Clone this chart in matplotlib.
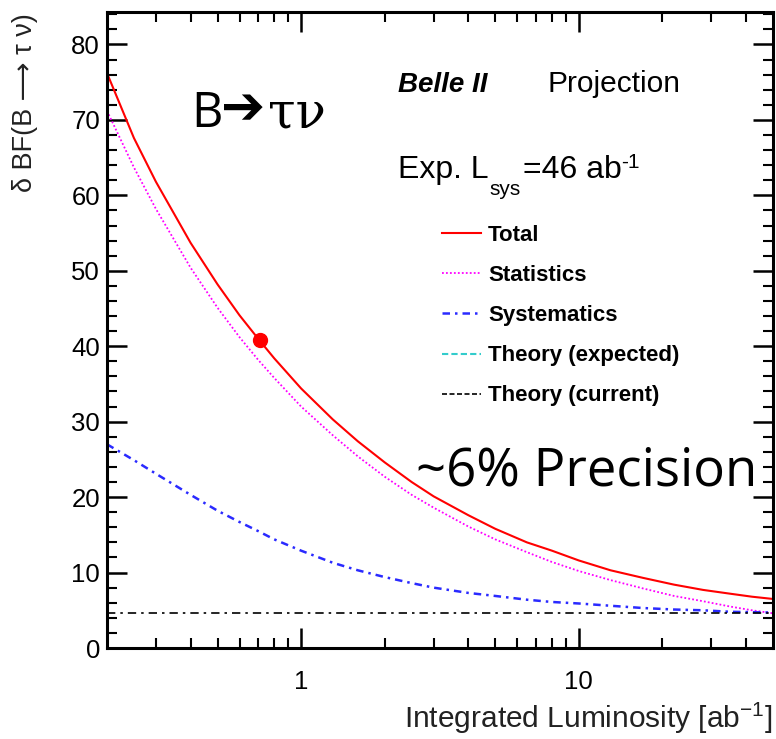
import matplotlib
matplotlib.use("Agg")
import matplotlib.pyplot as plt
from matplotlib.lines import Line2D
from matplotlib.ticker import FixedLocator, NullFormatter

# B -> tau nu branching-fraction uncertainty (%) vs integrated luminosity (ab^-1)
lumi = [0.2, 0.25, 0.3, 0.4, 0.5, 0.6, 0.7, 0.8, 1.0, 1.3, 1.6, 2.0, 2.5,
        3.0, 4.0, 5.0, 6.5, 8.0, 10, 13, 17, 22, 28, 35, 42, 50]
total = [76.2, 67.6, 61.8, 53.7, 48.2, 44.1, 41.0, 38.4, 34.4, 30.3, 27.4, 24.6, 22.0,
         20.1, 17.6, 15.8, 14.0, 12.9, 11.6, 10.3, 9.3, 8.4, 7.7, 7.2, 6.8, 6.5]
stat = [71.2, 63.7, 58.2, 50.4, 45.1, 41.2, 38.2, 35.8, 32.0, 28.2, 25.4, 22.7, 20.3,
        18.6, 16.1, 14.4, 12.7, 11.4, 10.2, 9.0, 7.9, 6.9, 6.2, 5.5, 5.0, 4.6]
syst = [27.0, 24.9, 23.1, 20.3, 18.2, 16.7, 15.5, 14.4, 12.9, 11.3, 10.3, 9.4, 8.6,
        8.0, 7.3, 6.9, 6.4, 6.1, 5.9, 5.6, 5.3, 5.1, 5.0, 4.8, 4.75, 4.7]
theory_lumi = [0.2, 50]
theory_now = [4.6, 4.6]

# Belle measurement point
belle_lumi = [0.711]
belle_err = [40.8]

x_major = [1, 10]
x_minor = [0.3, 0.4, 0.5, 0.6, 0.7, 0.8, 0.9, 2, 3, 4, 5, 6, 7, 8, 9, 20, 30, 40]
y_major = list(range(0, 81, 10))
y_minor = list(range(0, 85, 2))

plt.rcParams['font.family'] = ['Liberation Sans', 'DejaVu Sans']
plt.rcParams['mathtext.fontset'] = 'custom'
plt.rcParams['mathtext.rm'] = 'Liberation Sans'
plt.rcParams['mathtext.it'] = 'Liberation Sans:italic'

W, H = 776, 739
fig = plt.figure(figsize=(W / 100, H / 100), dpi=100)
ax = fig.add_axes([107 / W, 1 - 648 / H, (773 - 107) / W, (648 - 12) / H])


def px(x, y):
    # pixel position (from top-left) -> figure fraction
    return x / W, 1 - y / H


red = '#ff0000'
mag = '#ff00ff'
blue = '#2a2aff'
cyan = '#33cccc'

ax.plot(lumi, total, color=red, lw=1.5)
ax.plot(lumi, stat, color=mag, lw=1.3, ls=(0, (1, 1.2)))
ax.plot(lumi, syst, color=blue, lw=1.8, ls=(0, (3, 2, 1, 2)))
ax.plot(theory_lumi, theory_now, color='black', lw=1.2, ls=(0, (5, 3, 1.5, 3)))
ax.plot(belle_lumi, belle_err, 'o', color=red, ms=10, zorder=5)

ax.set_xscale('log')
ax.set_xlim(0.2, 50)
ax.set_ylim(0, 84.3)
ax.xaxis.set_major_locator(FixedLocator(x_major))
ax.xaxis.set_minor_locator(FixedLocator(x_minor))
ax.xaxis.set_minor_formatter(NullFormatter())
ax.set_xticklabels(['1', '10'])
ax.yaxis.set_major_locator(FixedLocator(y_major))
ax.yaxis.set_minor_locator(FixedLocator(y_minor))

ax.tick_params(which='both', direction='in', top=True, right=True, colors='black')
ax.tick_params(which='major', length=14.5, width=1.8, labelsize=18.5)
ax.tick_params(which='minor', length=7.2, width=1.5)
ax.tick_params(axis='x', which='major', pad=16)
ax.tick_params(axis='y', which='major', pad=5)
for s in ax.spines.values():
    s.set_linewidth(2.2)

# axis titles
fig.text(*px(25, 13), 'δ BF(B ⟶ τ ν)', rotation=90, ha='center', va='top',
         fontsize=19.5, color='#222222')
fig.text(*px(773, 728), 'Integrated Luminosity [ab$^{-1}$]', ha='right',
         va='baseline', fontsize=21.5, color='#222222')

# experiment tag
fig.text(*px(398, 92), 'Belle II', fontsize=20, fontweight='bold', fontstyle='italic',
         va='baseline')
fig.text(*px(548, 92), 'Projection', fontsize=21.5, va='baseline')

# Exp. L_sys = 46 ab^-1, pieces chained so sub/superscripts follow the text
t_exp = fig.text(*px(398, 178), 'Exp. L', fontsize=23, va='baseline')
sys_txt = ax.annotate('sys', xy=(1.0, 0), xycoords=t_exp, xytext=(0.5, -7),
                      textcoords='offset points', fontsize=15, va='baseline',
                      annotation_clip=False)
eq_txt = ax.annotate('=46 ab', xy=(1.0, 0), xycoords=sys_txt, xytext=(1.5, 15),
                     textcoords='offset points', fontsize=23, va='baseline',
                     annotation_clip=False)
ax.annotate('-1', xy=(1.0, 0), xycoords=eq_txt, xytext=(0, 12),
            textcoords='offset points', fontsize=15, va='baseline',
            annotation_clip=False)

# decay label and precision note
fig.text(*px(191, 127), 'B', family='Open Sans', fontsize=35, va='baseline')
fig.text(*px(221, 124), '➔', family='DejaVu Sans', fontweight='bold', fontsize=38,
         va='baseline')
fig.text(*px(268, 127), 'τν', family='DejaVu Serif', fontsize=36, va='baseline')
fig.text(*px(757, 486), '~6% Precision', family='Open Sans', fontsize=38, ha='right',
         va='baseline')

handles = [
    Line2D([], [], color=red, lw=1.5),
    Line2D([], [], color=mag, lw=1.3, ls=(0, (1, 1.2))),
    Line2D([], [], color=blue, lw=1.8, ls=(0, (3, 2, 1, 2))),
    Line2D([], [], color=cyan, lw=1.5, ls=(0, (3, 1.5))),
    Line2D([], [], color='black', lw=1.2, ls=(0, (3, 1.5))),
]
labels = ['Total', 'Statistics', 'Systematics', 'Theory (expected)', 'Theory (current)']
fig.legend(handles, labels, loc='upper left', bbox_to_anchor=px(441.7, 225),
           frameon=False, borderpad=0, borderaxespad=0, handlelength=1.75,
           handletextpad=0.33, labelspacing=0.86,
           prop={'family': 'Liberation Sans', 'weight': 'bold', 'size': 16})

fig.savefig('out.png', dpi=100)
